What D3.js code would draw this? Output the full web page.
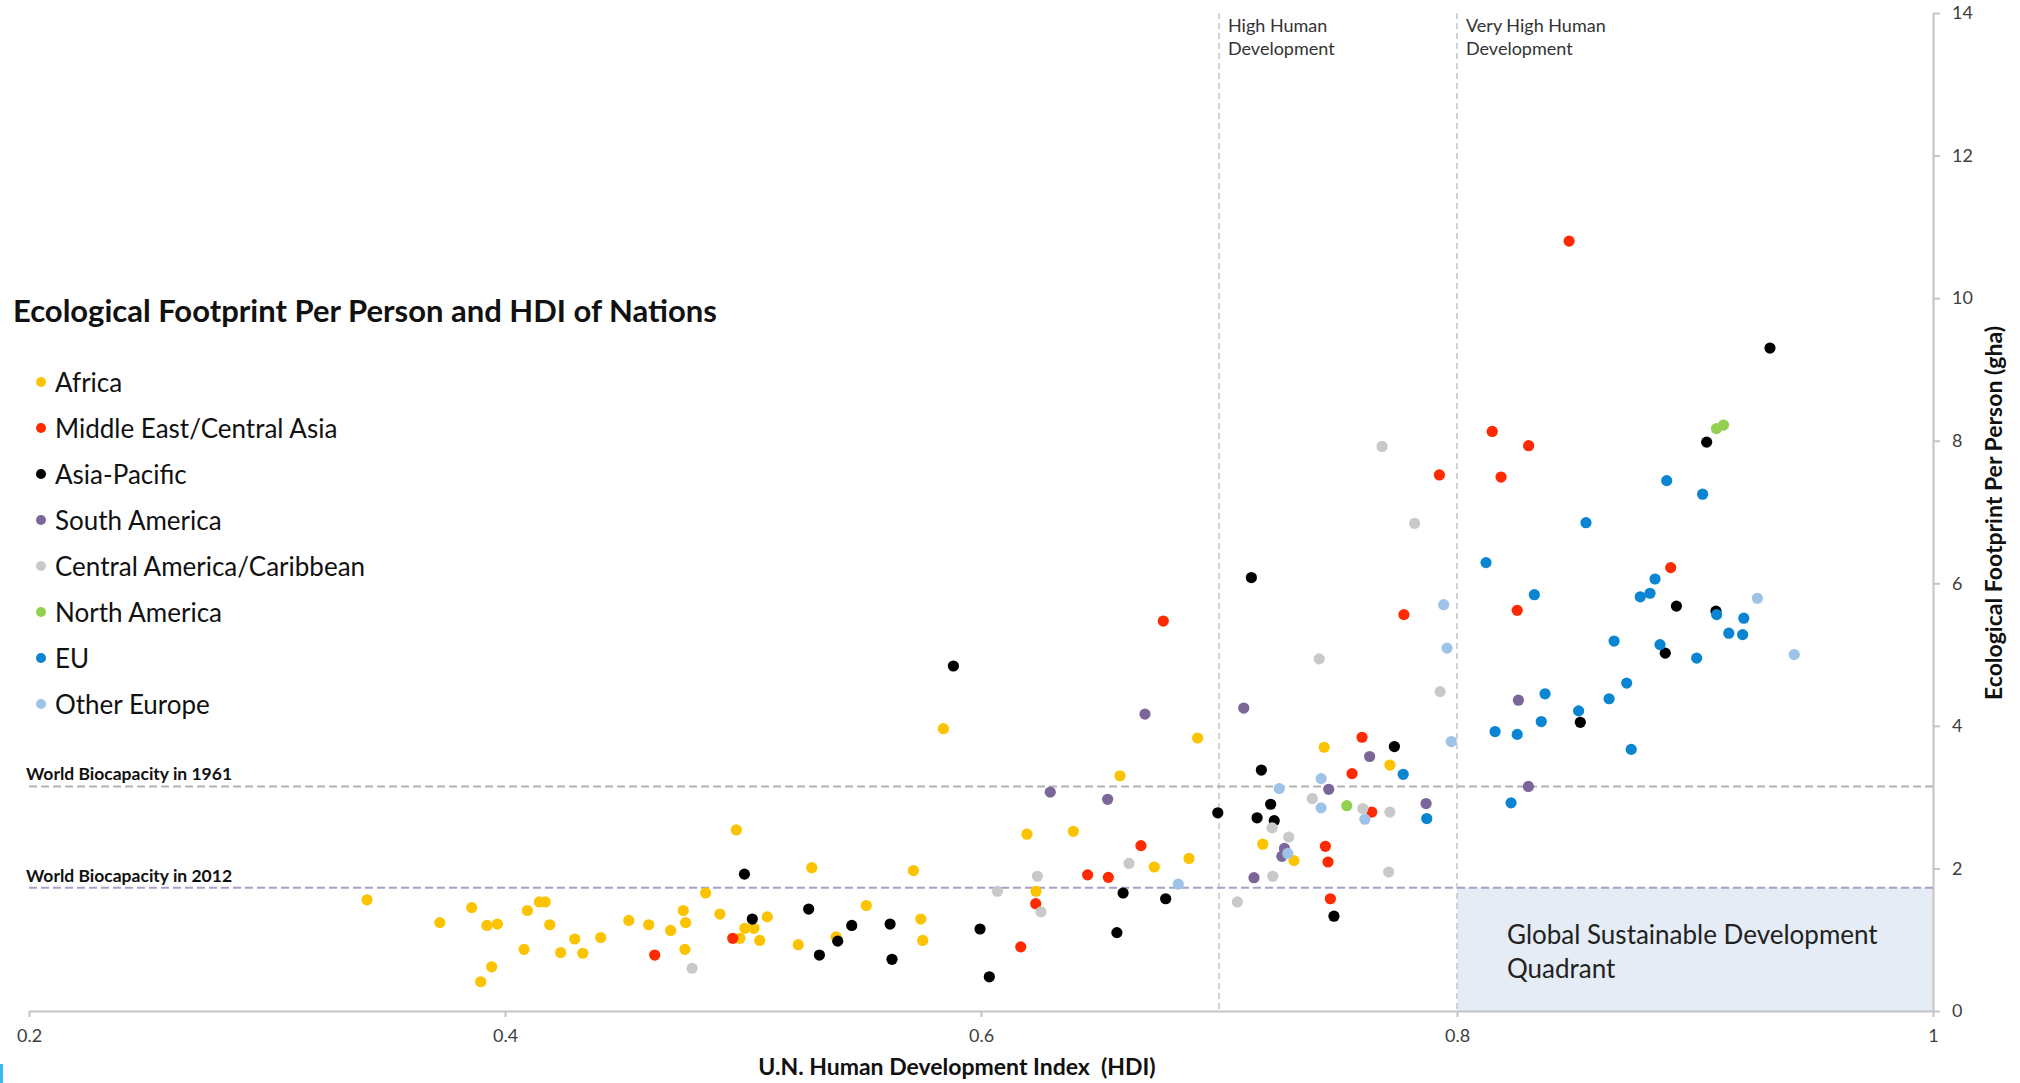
<!DOCTYPE html>
<html>
<head>
  <meta charset="utf-8">
  <title>Ecological Footprint Per Person and HDI of Nations</title>
  <script src="https://cdn.jsdelivr.net/npm/d3@7"></script>
  <style>
    body { margin:0; background:#fff; }
    svg { display:block; font-family:Lato, "Open Sans", sans-serif; }
    .axis path, .axis line { stroke:#c4c4c4; stroke-width:2; }
    .axis text { font-size:18px; fill:#404040; font-family:Lato, sans-serif; }
  </style>
</head>
<body>
<div id="chart"></div>
<script>
// regions, in legend order
var regions = ['Africa', 'Middle East/Central Asia', 'Asia-Pacific', 'South America',
               'Central America/Caribbean', 'North America', 'EU', 'Other Europe'];
var colors = ['#fcc400', '#ff2a00', '#000000', '#7a6699', '#c9c9c9', '#92d050', '#0a85d2', '#9fc3e8'];

// [HDI, ecological footprint (gha)] per nation
var africa = [[0.342,1.56],[0.3726,1.24],[0.386,1.45],[0.3924,1.20],[0.3968,1.22],[0.3944,0.62],
  [0.3898,0.41],[0.408,0.865],[0.4094,1.41],[0.4144,1.53],[0.4169,1.53],[0.4188,1.21],[0.4234,0.82],
  [0.4327,0.81],[0.4293,1.01],[0.4402,1.03],[0.452,1.27],[0.4604,1.21],[0.4696,1.13],[0.4749,1.41],
  [0.4759,1.24],[0.4756,0.865],[0.4843,1.655],[0.4903,1.36],[0.4972,2.54],[0.5008,1.16],[0.5046,1.16],
  [0.4987,1.02],[0.507,0.99],[0.5102,1.32],[0.5232,0.93],[0.5289,2.01],[0.5391,1.04],[0.5518,1.48],
  [0.5716,1.97],[0.5747,1.29],[0.5755,0.99],[0.5842,3.96],[0.6193,2.48],[0.6231,1.68],[0.6388,2.52],
  [0.6584,3.30],[0.6728,2.02],[0.691,3.83],[0.6874,2.14],[0.7184,2.34],[0.7315,2.11],[0.7442,3.70],
  [0.7718,3.45]];
var middleEast = [[0.4629,0.785],[0.4957,1.02],[0.6167,0.90],[0.623,1.505],[0.6448,1.91],[0.6535,1.875],
  [0.6672,2.32],[0.6766,5.47],[0.7447,2.31],[0.7458,2.09],[0.7468,1.575],[0.7559,3.33],[0.7601,3.84],
  [0.7642,2.79],[0.7777,5.56],[0.7926,7.52],[0.8148,8.13],[0.8185,7.49],[0.8301,7.93],[0.8253,5.62],
  [0.8471,10.80],[0.8898,6.22]];
var asiaPacific = [[0.5006,1.92],[0.5039,1.29],[0.5276,1.43],[0.5321,0.785],[0.5398,0.98],[0.5457,1.20],
  [0.5618,1.22],[0.5626,0.725],[0.5884,4.84],[0.5996,1.15],[0.6035,0.48],[0.6571,1.10],[0.6597,1.655],
  [0.6776,1.575],[0.6995,2.78],[0.7136,6.08],[0.7178,3.38],[0.7217,2.90],[0.716,2.71],[0.7232,2.67],
  [0.7483,1.33],[0.7737,3.71],[0.8518,4.05],[0.8875,5.02],[0.8922,5.68],[0.9088,5.61],[0.9049,7.98],
  [0.9315,9.30]];
var southAmerica = [[0.6291,3.07],[0.6532,2.97],[0.6689,4.165],[0.7104,4.25],[0.7633,3.57],[0.7461,3.11],
  [0.787,2.91],[0.7275,2.28],[0.7264,2.17],[0.7147,1.87],[0.8258,4.36],[0.83,3.15]];
var centralAmerica = [[0.4786,0.60],[0.6069,1.68],[0.6237,1.89],[0.6252,1.39],[0.6622,2.07],[0.7077,1.53],
  [0.7223,2.57],[0.7293,2.44],[0.7226,1.89],[0.7392,2.98],[0.7604,2.84],[0.7718,2.79],[0.7713,1.95],
  [0.7421,4.94],[0.7929,4.48],[0.7822,6.84],[0.7685,7.92]];
var northAmerica = [[0.7537,2.88],[0.909,8.17],[0.912,8.22]];
var eu = [[0.7774,3.32],[0.7873,2.70],[0.8122,6.29],[0.816,3.92],[0.8253,3.88],[0.8227,2.92],[0.8325,5.84],
  [0.8354,4.06],[0.837,4.45],[0.8511,4.21],[0.8542,6.85],[0.8639,4.38],[0.866,5.19],[0.8713,4.60],
  [0.8732,3.67],[0.877,5.81],[0.8811,5.86],[0.8832,6.06],[0.8853,5.14],[0.8881,7.44],[0.9007,4.95],
  [0.9032,7.25],[0.9091,5.56],[0.9142,5.30],[0.92,5.28],[0.9205,5.51]];
var otherEurope = [[0.6829,1.78],[0.7253,3.12],[0.7429,3.26],[0.7429,2.85],[0.7613,2.69],[0.7289,2.21],
  [0.7944,5.70],[0.7958,5.09],[0.7976,3.78],[0.9262,5.79],[0.9417,5.00]];

var series = [africa, middleEast, asiaPacific, southAmerica, centralAmerica, northAmerica, eu, otherEurope];

var xTicks = [0.2, 0.4, 0.6, 0.8, 1];
var yTicks = [0, 2, 4, 6, 8, 10, 12, 14];
var hdiBands = [0.7, 0.8];
var bandLabels = [['High Human', 'Development'], ['Very High Human', 'Development']];
var biocapacity = [3.15, 1.73];
var biocapacityLabels = ['World Biocapacity in 1961', 'World Biocapacity in 2012'];

var W = 2020, H = 1083;
var svg = d3.select('#chart').append('svg')
  .attr('width', W)
  .attr('height', H);

var x = d3.scaleLinear().domain([0.2, 1]).range([29, 1933]);
var y = d3.scaleLinear().domain([0, 14]).range([1011, 13]);

// sustainable quadrant
svg.append('rect')
  .attr('x', x(0.8)).attr('y', y(biocapacity[1]))
  .attr('width', x(1) - x(0.8)).attr('height', y(0) - y(biocapacity[1]))
  .attr('fill', '#e5ecf6');

svg.append('text')
  .attr('x', 1507).attr('y', 944)
  .attr('font-size', 26).attr('fill', '#222')
  .text('Global Sustainable Development');
svg.append('text')
  .attr('x', 1507).attr('y', 978)
  .attr('font-size', 26).attr('fill', '#222')
  .text('Quadrant');

// HDI band lines
hdiBands.forEach(function(h, i) {
  svg.append('line')
    .attr('x1', x(h)).attr('x2', x(h))
    .attr('y1', y(14)).attr('y2', y(0))
    .attr('stroke', '#c8c8c8').attr('stroke-width', 1.6)
    .attr('stroke-dasharray', '6,4');
  bandLabels[i].forEach(function(t, j) {
    svg.append('text')
      .attr('x', x(h) + 9).attr('y', 32 + j * 23)
      .attr('font-size', 18).attr('fill', '#333')
      .text(t);
  });
});

// axes
svg.append('g')
  .attr('class', 'axis')
  .attr('transform', 'translate(0,' + y(0) + ')')
  .call(d3.axisBottom(x).tickValues(xTicks).tickSize(6).tickSizeOuter(0).tickPadding(12)
    .tickFormat(function(d) { return d === 1 ? '1' : d.toFixed(1); }));

svg.append('g')
  .attr('class', 'axis')
  .attr('transform', 'translate(' + x(1) + ',0)')
  .call(d3.axisRight(y).tickValues(yTicks).tickSize(7).tickSizeOuter(0).tickPadding(12));

// biocapacity lines
var bioColors = ['#b3b3b3', '#a99fc8'];
biocapacity.forEach(function(v, i) {
  svg.append('line')
    .attr('x1', x(0.2)).attr('x2', x(1))
    .attr('y1', y(v)).attr('y2', y(v))
    .attr('stroke', bioColors[i]).attr('stroke-width', 2)
    .attr('stroke-dasharray', '8,4');
  svg.append('text')
    .attr('x', 26).attr('y', y(v) - 6)
    .attr('font-size', 17.5).attr('font-weight', 'bold').attr('fill', '#111')
    .text(biocapacityLabels[i]);
});

// points
series.forEach(function(pts, i) {
  svg.append('g')
    .selectAll('circle')
    .data(pts)
    .join('circle')
    .attr('cx', function(d) { return x(d[0]); })
    .attr('cy', function(d) { return y(d[1]); })
    .attr('r', 5.6)
    .attr('fill', colors[i]);
});

// title and legend
svg.append('text')
  .attr('x', 13).attr('y', 322)
  .attr('font-size', 31).attr('font-weight', 'bold').attr('fill', '#111')
  .text('Ecological Footprint Per Person and HDI of Nations');

var legend = svg.append('g');
regions.forEach(function(r, i) {
  var ly = 384 + i * 46;
  legend.append('circle')
    .attr('cx', 41).attr('cy', ly - 2).attr('r', 5)
    .attr('fill', colors[i]);
  legend.append('text')
    .attr('x', 55).attr('y', ly + 8)
    .attr('font-size', 26).attr('fill', '#111')
    .text(r);
});

// axis titles
svg.append('text')
  .attr('x', 957).attr('y', 1075)
  .attr('text-anchor', 'middle')
  .attr('font-size', 23).attr('font-weight', 'bold').attr('fill', '#111')
  .attr('xml:space', 'preserve')
  .text('U.N. Human Development Index  (HDI)');

svg.append('text')
  .attr('transform', 'translate(2002,513) rotate(-90)')
  .attr('text-anchor', 'middle')
  .attr('font-size', 23).attr('font-weight', 'bold').attr('fill', '#111')
  .text('Ecological Footprint Per Person (gha)');

// small cyan mark at lower left corner
svg.append('rect')
  .attr('x', 0).attr('y', 1064).attr('width', 3).attr('height', 19)
  .attr('fill', '#3ab8f0');
</script>
</body>
</html>
